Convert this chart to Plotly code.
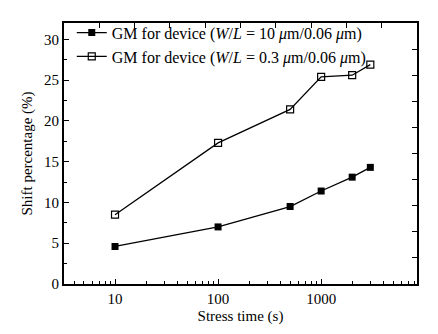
import plotly.graph_objects as go

stress_time = [10, 100, 500, 1000, 2000, 3000]
shift_wide = [4.6, 7.0, 9.5, 11.4, 13.1, 14.3]
shift_narrow = [8.5, 17.3, 21.4, 25.4, 25.6, 26.9]
names = ["GM for device (<i>W</i>/<i>L</i> = 10 <i>μ</i>m/0.06 <i>μ</i>m)",
         "GM for device (<i>W</i>/<i>L</i> = 0.3 <i>μ</i>m/0.06 <i>μ</i>m)"]

FONT = "Liberation Serif"

fig = go.Figure()
fig.add_trace(go.Scatter(x=stress_time, y=shift_wide, mode="lines+markers", name=names[0],
                         line=dict(color="black", width=1.3),
                         marker=dict(symbol="square", size=7, color="black")))
fig.add_trace(go.Scatter(x=stress_time, y=shift_narrow, mode="lines+markers", name=names[1],
                         line=dict(color="black", width=1.3),
                         marker=dict(symbol="square-open", size=7, color="black", line=dict(width=1.2))))

fig.update_layout(
    width=438, height=334,
    margin=dict(l=64, r=21, t=23, b=50),
    plot_bgcolor="white", paper_bgcolor="white",
    font=dict(family=FONT, size=15, color="black"),
    showlegend=True,
    legend=dict(x=0.022, y=1.028, xanchor="left", yanchor="top", bgcolor="rgba(0,0,0,0)",
                font=dict(family=FONT, size=16, color="black"), tracegroupgap=0, itemwidth=30),
    xaxis=dict(type="log", range=[0.505, 3.93], showgrid=False, zeroline=False,
               showline=True, linecolor="black", linewidth=2, mirror=False,
               ticks="inside", ticklen=5, tickwidth=1, tickcolor="black",
               tickvals=[10, 100, 1000], ticktext=["10", "100", "1000"],
               tickfont=dict(family=FONT, size=15, color="black"),
               minor=dict(ticks="inside", ticklen=3, tickwidth=1, tickcolor="black",
                          tickvals=[v * d for d in [1, 10, 100, 1000] for v in range(2, 10) if 3 <= v * d <= 8500]),
               title=dict(text="Stress time (s)", font=dict(family=FONT, size=15, color="black"), standoff=4)),
    yaxis=dict(range=[0, 32], showgrid=False, zeroline=False,
               showline=True, linecolor="black", linewidth=2,
               ticks="inside", ticklen=5, tickwidth=1, tickcolor="black",
               tick0=0, dtick=5,
               tickfont=dict(family=FONT, size=15, color="black"),
               minor=dict(ticks="inside", ticklen=3, tickwidth=1, tickcolor="black", dtick=2.5),
               title=dict(text="Shift percentage (%)", font=dict(family=FONT, size=15, color="black"), standoff=8)),
    xaxis2=dict(overlaying="x", side="top", range=[0, 10], showgrid=False, zeroline=False,
                showline=True, linecolor="black", linewidth=2, ticks="inside", ticklen=5,
                tickcolor="black", dtick=1, showticklabels=False),
    yaxis2=dict(overlaying="y", side="right", range=[0, 10], showgrid=False, zeroline=False,
                showline=True, linecolor="black", linewidth=2, ticks="inside", ticklen=5,
                tickcolor="black", dtick=1, showticklabels=False),
)
# dummy trace to activate the mirror axes
fig.add_trace(go.Scatter(x=[None], y=[None], xaxis="x2", yaxis="y2", showlegend=False, hoverinfo="skip"))

fig.write_html("out.html")
